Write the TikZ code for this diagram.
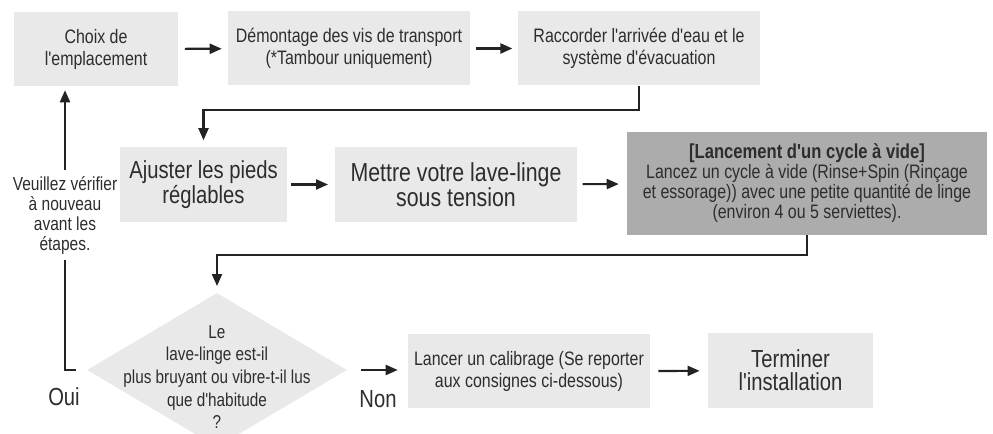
\documentclass[tikz,border=0pt]{standalone}
\usepackage{fontspec}
\setmainfont{Liberation Sans}[FakeStretch=0.82, Ligatures=TeXOff]
\usetikzlibrary{shapes.geometric, arrows.meta}
\usepackage{xcolor}
\definecolor{boxFill}  {RGB}{233, 233, 233}
\definecolor{boxDark}  {RGB}{172, 172, 172}
\definecolor{txtDark}  {RGB}{45,  45,  45}
\definecolor{lnDark}   {RGB}{35,  35,  35}

\begin{document}
\begin{tikzpicture}[x=0.75pt, y=-0.75pt,
    stepbox/.style={fill=boxFill, text=txtDark, align=center, inner sep=0pt,
      minimum width=181.5pt, minimum height=55.5pt,
      font=\fontsize{14.6}{16.5}\selectfont},
    bigtxt/.style={font=\fontsize{18.5}{17}\selectfont},
    darkbox/.style={stepbox, fill=boxDark, minimum width=270pt, minimum height=77pt,
      font=\fontsize{14.6}{15}\selectfont},
    decision/.style={diamond, fill=boxFill, inner sep=0pt, aspect=1.69,
      minimum width=195pt, minimum height=115.5pt},
    note/.style={text=txtDark, align=center, inner sep=2pt},
    link/.style={draw=lnDark, line width=1.6pt},
    flow/.style={link, -{Triangle[length=9pt, width=7.5pt]}}]
  \useasboundingbox (0,0) rectangle (993,434);

  % ---- Row 1 ----
  \node[stepbox, minimum width=123pt] (choix) at (96,49) {Choix de\\l'emplacement};
  \node[stepbox] (vis) at (349,48.5) {Démontage des vis de transport\\(*Tambour uniquement)};
  \node[stepbox] (eau) at (639,48.5) {Raccorder l'arrivée d'eau et le\\système d'évacuation};

  % ---- Row 2 ----
  \node[stepbox, bigtxt, minimum width=125pt, minimum height=56pt] (pieds) at (203.5,184.5)
    {Ajuster les pieds\\réglables};
  \node[stepbox, bigtxt, minimum height=56pt, font=\fontsize{19.5}{17}\selectfont] (tension)
    at (456,184.5) {Mettre votre lave-linge\\sous tension};
  \node[darkbox] (cycle) at (807,183.5)
    {{\bfseries\fontsize{15.2}{15}\selectfont [Lancement d'un cycle à vide]}\\
     Lancez un cycle à vide (Rinse+Spin (Rinçage\\
     et essorage)) avec une petite quantité de linge\\
     (environ 4 ou 5 serviettes).};

  % ---- Row 3 ----
  \node[decision] (bruit) at (217,370) {};
  \node[note, font=\fontsize{14}{17}\selectfont] (question) at (217,377)
    {Le\\lave-linge est-il\\plus bruyant ou vibre-t-il lus\\que d'habitude\\?};
  \node[stepbox] (calib) at (529,371.5)
    {Lancer un calibrage (Se reporter\\aux consignes ci-dessous)};
  \node[stepbox, bigtxt, minimum width=124pt, minimum height=56pt] (fin) at (790.5,370.5)
    {Terminer\\l'installation};

  % ---- Labels ----
  \node[note, font=\fontsize{14.2}{15}\selectfont] (verif) at (65,215)
    {Veuillez vérifier\\à nouveau\\avant les\\étapes.};
  \node[note, bigtxt] (oui) at (64,397) {Oui};
  \node[note, bigtxt] (non) at (378,399) {Non};

  % ---- Connectors ----
  \draw[flow, shorten <=5pt, shorten >=4.5pt] (choix) -- (vis);
  \draw[flow, shorten <=4pt, shorten >=4pt] (vis) -- (eau);
  \draw[flow, shorten >=5pt] (eau.south) -- ++(0,24) -| (pieds.north);
  \draw[flow, shorten <=3pt, shorten >=5pt] (pieds) -- (tension);
  \draw[flow, shorten <=4pt, shorten >=6pt] (tension) -- (cycle);
  \draw[flow, shorten >=5pt] (cycle.south) -- ++(0,20) -| (bruit.north);
  \draw[flow, shorten <=10pt, shorten >=7.5pt] (bruit.east) -- (calib.west |- bruit.east);
  \draw[flow, shorten <=6pt, shorten >=6pt] (calib) -- (fin);

  % ---- Loop back (Oui) ----
  \draw[link, shorten >=2pt] ([xshift=-8pt]bruit.west) -| (verif.south);
  \draw[flow, shorten <=2pt, shorten >=3pt] (verif.north) -- (verif.north |- choix.south);
\end{tikzpicture}
\end{document}
